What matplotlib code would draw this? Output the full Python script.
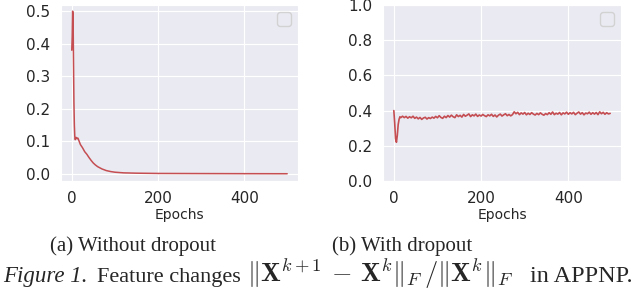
import numpy as np
import matplotlib
matplotlib.use('Agg')
import matplotlib.pyplot as plt
import seaborn as sns

# (a) without dropout: epoch -> feature change
epochs_a = [0, 1, 2, 3, 4, 5, 6, 7, 8, 10, 12, 14, 16, 20, 25, 30, 35, 40, 45, 50,
            55, 60, 70, 80, 90, 100, 120, 150, 200, 300, 400, 499]
values_a = [0.38, 0.42, 0.50, 0.49, 0.35, 0.22, 0.15, 0.115, 0.105, 0.112, 0.108, 0.110,
            0.104, 0.090, 0.080, 0.068, 0.060, 0.050, 0.041, 0.033, 0.027, 0.022, 0.015,
            0.010, 0.007, 0.005, 0.003, 0.002, 0.0012, 0.0008, 0.0005, 0.0003]

# (b) with dropout: first epochs, then every 4 epochs from 20 to 496
epochs_b_start = [0, 2, 4, 6, 8, 10, 12, 14, 16]
values_b_start = [0.40, 0.33, 0.24, 0.22, 0.26, 0.32, 0.35, 0.365, 0.36]
epochs_b_rest = list(range(20, 500, 4))
values_b_rest = [
    0.368, 0.360, 0.367, 0.357, 0.365, 0.359, 0.368, 0.356, 0.363, 0.353, 0.361, 0.350,
    0.358, 0.362, 0.352, 0.360, 0.355, 0.363, 0.357, 0.367, 0.359, 0.371, 0.361, 0.356,
    0.368, 0.360, 0.372, 0.363, 0.374, 0.365, 0.360, 0.376, 0.366, 0.373, 0.363, 0.378,
    0.368, 0.374, 0.381, 0.366, 0.376, 0.370, 0.380, 0.367, 0.375, 0.369, 0.378, 0.371,
    0.366, 0.376, 0.370, 0.379, 0.367, 0.375, 0.364, 0.374, 0.380, 0.369, 0.376, 0.382,
    0.371, 0.378, 0.370, 0.377, 0.393, 0.382, 0.390, 0.377, 0.387, 0.380, 0.389, 0.376,
    0.385, 0.378, 0.388, 0.380, 0.375, 0.384, 0.377, 0.387, 0.379, 0.374, 0.383, 0.377,
    0.388, 0.379, 0.392, 0.377, 0.385, 0.380, 0.389, 0.376, 0.387, 0.381, 0.391, 0.379,
    0.388, 0.381, 0.390, 0.377, 0.385, 0.392, 0.380, 0.388, 0.376, 0.386, 0.382, 0.391,
    0.379, 0.388, 0.380, 0.389, 0.377, 0.393, 0.382, 0.390, 0.379, 0.388, 0.381, 0.384,
]
epochs_b = epochs_b_start + epochs_b_rest
values_b = values_b_start + values_b_rest

sub_captions = ['(a) Without dropout', '(b) With dropout']

sns.set_style('darkgrid')
plt.rcParams['mathtext.fontset'] = 'cm'

fig = plt.figure(figsize=(6.36, 3.0), dpi=100)
ax_a = fig.add_axes([0.0959, 0.3967, 0.3726, 0.5867])
ax_b = fig.add_axes([0.6022, 0.3967, 0.3742, 0.5867])

red = '#C44E52'
ax_a.plot(epochs_a, values_a, color=red, lw=1.1)
ax_b.plot(epochs_b, values_b, color=red, lw=1.2)

ax_a.set_ylim(-0.022, 0.519)
ax_a.set_yticks([0.0, 0.1, 0.2, 0.3, 0.4, 0.5])
ax_b.set_ylim(0, 1.0)
ax_b.set_yticks([0.0, 0.2, 0.4, 0.6, 0.8, 1.0])

for ax in (ax_a, ax_b):
    ax.set_xticks([0, 200, 400])
    ax.set_xlabel('Epochs', fontsize=10, labelpad=1)
    ax.tick_params(labelsize=11, pad=4)
    ax.legend(handles=[], loc='upper right', borderpad=0.5)

# captions
serif = 'Liberation Serif'
fig.text(133 / 636, 1 - 246 / 300, sub_captions[0], ha='center', va='center',
         fontsize=15, family=serif)
fig.text(402 / 636, 1 - 246 / 300, sub_captions[1], ha='center', va='center',
         fontsize=15, family=serif)
y_cap = 1 - 282 / 300
fig.text(3 / 636, y_cap, 'Figure 1.', ha='left', va='baseline', fontsize=16.5,
         family=serif, style='italic')
fig.text(97 / 636, y_cap, 'Feature changes', ha='left', va='baseline', fontsize=16,
         family=serif)
fig.text(247 / 636, y_cap,
         r'$\|\mathbf{X}^{k+1}\,-\,\mathbf{X}^{k}\|_F\,/\|\mathbf{X}^{k}\|_F$',
         ha='left', va='baseline', fontsize=19)
fig.text(633 / 636, y_cap, 'in APPNP.', ha='right', va='baseline', fontsize=17.5,
         family=serif)

fig.savefig('out.png', dpi=100)
